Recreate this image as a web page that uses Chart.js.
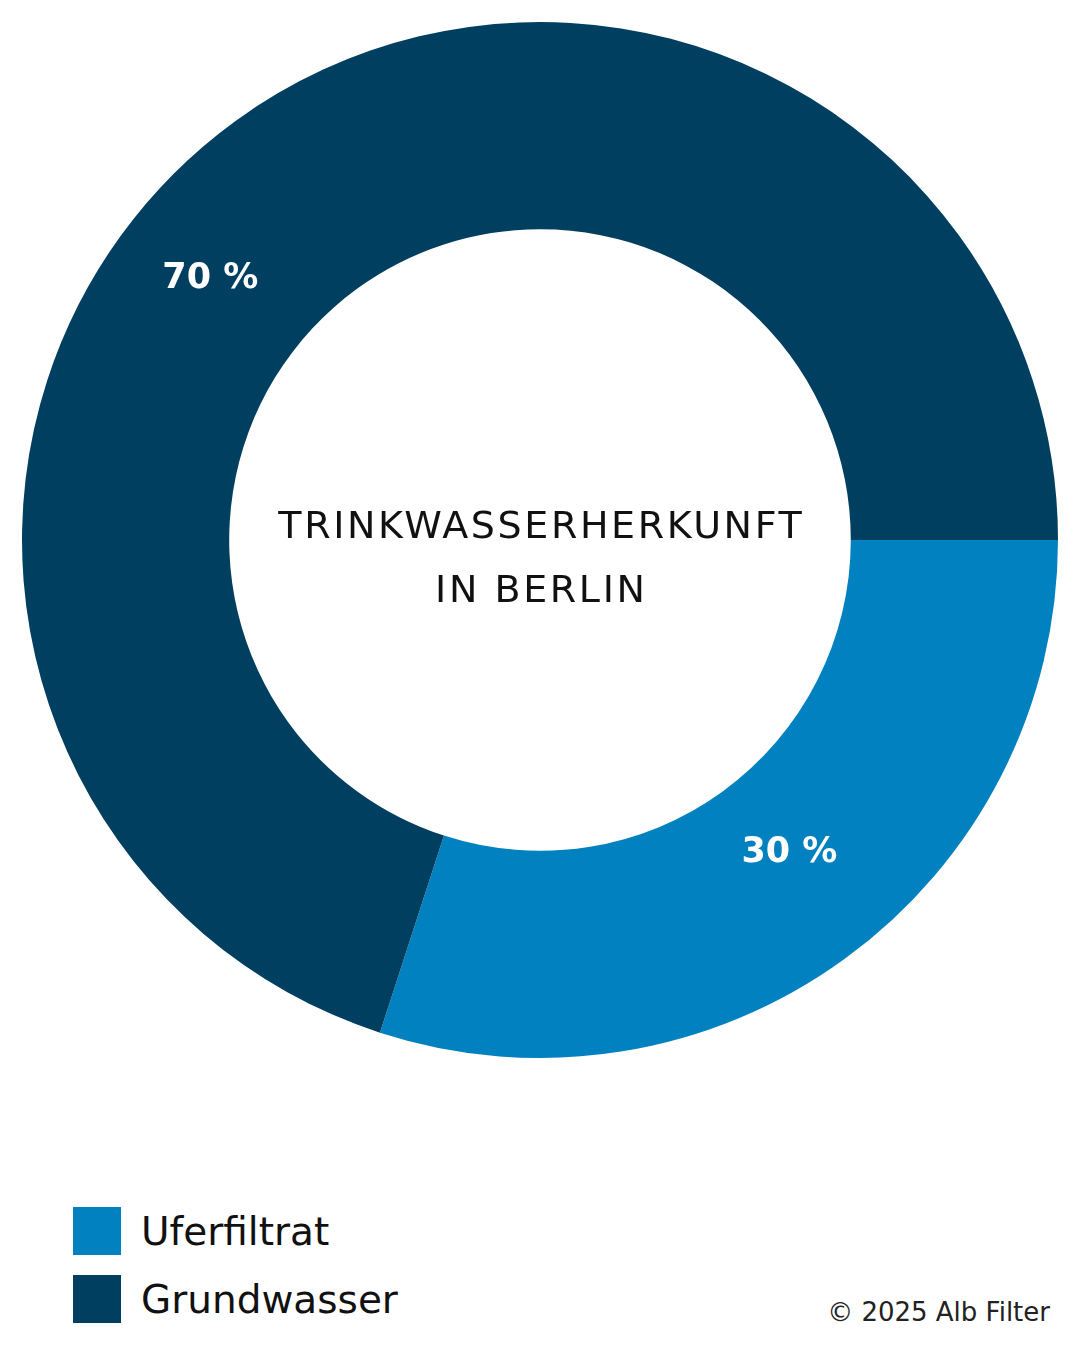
<!DOCTYPE html>
<html lang="de">
<head>
<meta charset="utf-8">
<title>Trinkwasserherkunft in Berlin</title>
<script src="https://cdn.jsdelivr.net/npm/chart.js@4.4.1/dist/chart.umd.min.js"></script>
<style>
  html, body { margin:0; padding:0; background:#fff; }
  body { width:1080px; height:1350px; position:relative; overflow:hidden; font-family:"DejaVu Sans", sans-serif; color:#111; }
  #wrap { position:absolute; left:0; top:0; width:1080px; height:1080px; }
  #centerTitle { position:absolute; left:0; top:0; width:1080px; height:1080px; display:flex; align-items:center; justify-content:center; text-align:center; pointer-events:none; }
  #centerTitle div { font-size:38px; line-height:64px; letter-spacing:2.6px; margin-top:34px; padding-left:2.6px; }
  #legend { position:absolute; left:73px; top:1207px; }
  .leg-row { display:flex; align-items:center; height:48px; margin-bottom:20px; }
  .leg-box { width:48px; height:48px; margin-right:20px; }
  .leg-text { font-size:39px; }
  #credit { position:absolute; right:30px; top:1297px; font-size:26px; color:#222; }
</style>
</head>
<body>
<div id="wrap"><canvas id="chart" width="1080" height="1080"></canvas></div>
<div id="centerTitle"><div>TRINKWASSERHERKUNFT<br>IN BERLIN</div></div>
<div id="legend"></div>
<div id="credit">© 2025 Alb Filter</div>
<script>
// Daten
const labels = ['Uferfiltrat', 'Grundwasser'];
const values = [30, 70];
const colors = ['#0181BF', '#013F60'];

// Lage der Prozentwerte im Ring (Anteil am Bogenwinkel / an der Ringbreite)
const labelAngleFrac = [0.476, 0.438];
const labelRadiusFrac = [0.43, 0.53];

const ringLabels = {
  id: 'ringLabels',
  afterDatasetsDraw(chart){
    const { ctx } = chart;
    const meta = chart.getDatasetMeta(0);
    ctx.save();
    ctx.fillStyle = '#fff';
    ctx.font = 'bold 35px "DejaVu Sans"';
    ctx.textAlign = 'center';
    ctx.textBaseline = 'middle';
    meta.data.forEach((arc, i) => {
      const p = arc.getProps(['x','y','startAngle','endAngle','innerRadius','outerRadius'], true);
      const a = p.startAngle + (p.endAngle - p.startAngle) * labelAngleFrac[i];
      const r = p.innerRadius + (p.outerRadius - p.innerRadius) * labelRadiusFrac[i];
      ctx.fillText(values[i] + ' %', p.x + Math.cos(a) * r, p.y + Math.sin(a) * r);
    });
    ctx.restore();
  }
};

new Chart(document.getElementById('chart'), {
  type: 'doughnut',
  data: { labels, datasets: [{ data: values, backgroundColor: colors, borderWidth: 0 }] },
  options: {
    responsive: false,
    animation: false,
    rotation: 90,
    cutout: '60%',
    layout: { padding: 22 },
    plugins: { legend: { display: false }, tooltip: { enabled: false } }
  },
  plugins: [ringLabels]
});

document.getElementById('legend').innerHTML = labels.map((l, i) => `
  <div class="leg-row"><div class="leg-box" style="background:${colors[i]}"></div><span class="leg-text">${l}</span></div>`).join('');
</script>
</body>
</html>
